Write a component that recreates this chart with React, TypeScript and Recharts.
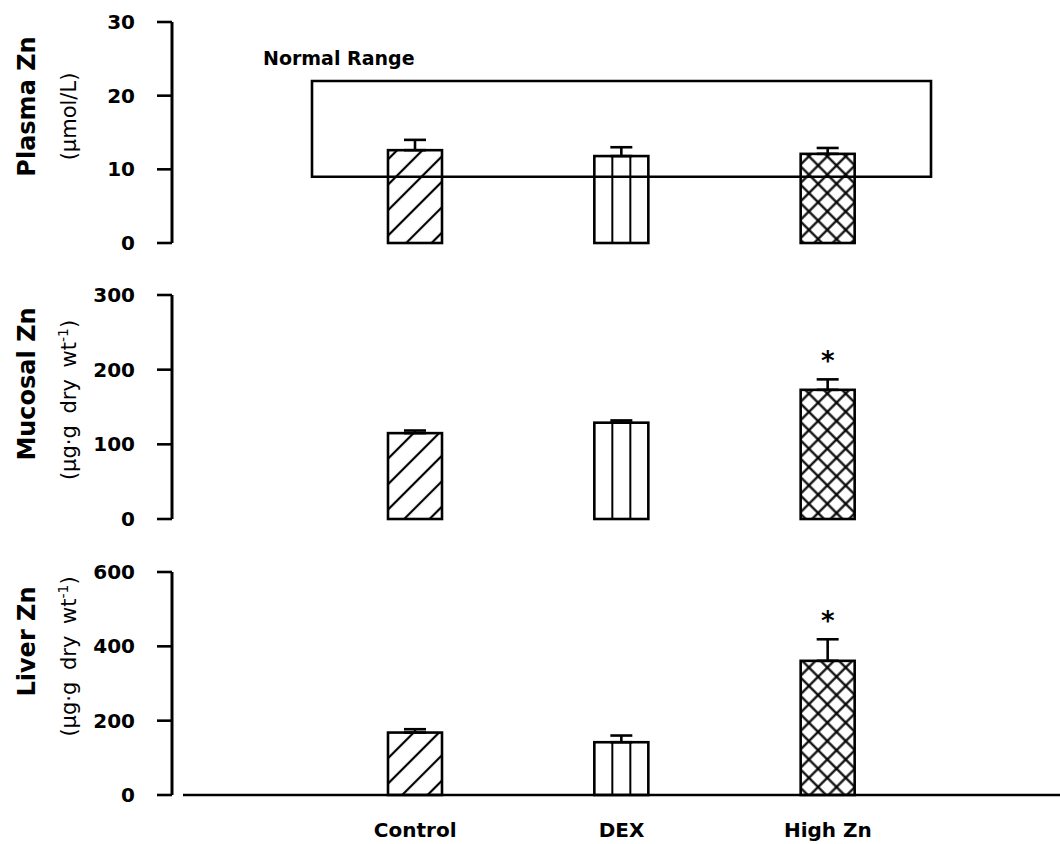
import React from 'react';
import {
  BarChart,
  Bar,
  XAxis,
  YAxis,
  ErrorBar,
  ReferenceArea,
  ReferenceDot,
} from 'recharts';

const FONT = "'DejaVu Sans', 'Liberation Sans', sans-serif";
const INK = '#000';

const groups = ['Control', 'DEX', 'High Zn'];

// plasma Zn, umol/L (mean, +SEM)
const plasmaZn = [12.6, 11.8, 12.1];
const plasmaSem = [1.4, 1.2, 0.8];
const normalRange = [9, 22];
const plasmaTicks = [0, 10, 20, 30];

// mucosal Zn, ug/g dry wt
const mucosalZn = [115, 129, 173];
const mucosalSem = [3.5, 3, 14];
const mucosalTicks = [0, 100, 200, 300];

// liver Zn, ug/g dry wt
const liverZn = [168, 142, 361];
const liverSem = [9, 18, 58];
const liverTicks = [0, 200, 400, 600];

// groups marked with * (p < 0.05 vs control)
const significant = ['High Zn'];

const HATCH: Record<string, string> = {
  Control: 'diag',
  DEX: 'vertical',
  'High Zn': 'cross',
};

const rows = (means: number[], sems: number[]) =>
  groups.map((group, i) => ({ group, mean: means[i], sem: sems[i], err: [0, sems[i]] }));

function HatchedBar(props: any) {
  const { x, y, width, height, payload } = props;
  if (!(height > 0)) return null;
  const hatch = HATCH[payload.group];
  return (
    <g>
      {hatch === 'vertical' ? (
        [1, 2].map((k) => (
          <line
            key={k}
            x1={x + (width * k) / 3}
            x2={x + (width * k) / 3}
            y1={y}
            y2={y + height}
            stroke={INK}
            strokeWidth={2}
          />
        ))
      ) : (
        <rect x={x} y={y} width={width} height={height} fill={`url(#hatch-${hatch})`} />
      )}
      <rect x={x} y={y} width={width} height={height} fill="none" stroke={INK} strokeWidth={2.6} />
    </g>
  );
}

function AxisTitle(props: any) {
  const { viewBox, title, units, sup, titleShift, unitsShift } = props;
  const vb = viewBox || { y: 0, height: 0 };
  const cy = vb.y + vb.height / 2;
  return (
    <g fontFamily={FONT} fill={INK}>
      <text
        transform={`translate(35, ${cy + titleShift}) rotate(-90)`}
        textAnchor="middle"
        fontSize={24}
        fontWeight="bold"
      >
        {title}
      </text>
      <text
        transform={`translate(76, ${cy + unitsShift}) rotate(-90)`}
        textAnchor="middle"
        fontSize={21}
        wordSpacing={5}
      >
        <tspan>{units}</tspan>
        {sup && (
          <>
            <tspan dy={-8} fontSize={14}>{sup}</tspan>
            <tspan dy={8}>)</tspan>
          </>
        )}
      </text>
    </g>
  );
}

function RangeLabel(props: any) {
  const { viewBox } = props;
  if (!viewBox) return null;
  return (
    <text
      x={viewBox.x - 49}
      y={viewBox.y - 16}
      fontFamily={FONT}
      fontSize={19}
      fontWeight="bold"
      fill={INK}
    >
      Normal Range
    </text>
  );
}

type PanelProps = {
  height: number;
  top: number;
  bottom: number;
  means: number[];
  sems: number[];
  ticks: number[];
  title: string;
  units: string;
  sup?: string;
  titleShift: number;
  unitsShift: number;
  showCategories?: boolean;
  stars?: boolean;
  children?: React.ReactNode;
};

function Panel(p: PanelProps) {
  const data = rows(p.means, p.sems);
  const tickStyle = { fill: INK, fontSize: 20, fontWeight: 'bold', fontFamily: FONT };
  return (
    <BarChart
      width={1060}
      height={p.height}
      data={data}
      margin={{ top: p.top, right: 0, bottom: p.bottom, left: 0 }}
    >
      <XAxis
        dataKey="group"
        type="category"
        hide={!p.showCategories}
        padding={{ left: 140, right: 129 }}
        height={49}
        tickSize={0}
        tickLine={false}
        tickMargin={28}
        axisLine={{ stroke: INK, strokeWidth: 2.6, strokeDasharray: '0 11 2000' }}
        tick={tickStyle}
      />
      <YAxis
        type="number"
        domain={[0, p.ticks[p.ticks.length - 1]]}
        ticks={p.ticks}
        interval={0}
        width={172}
        tickSize={15}
        tickMargin={22}
        axisLine={{ stroke: INK, strokeWidth: 3 }}
        tickLine={{ stroke: INK, strokeWidth: 2.6 }}
        tick={tickStyle}
        label={
          <AxisTitle
            title={p.title}
            units={p.units}
            sup={p.sup}
            titleShift={p.titleShift}
            unitsShift={p.unitsShift}
          />
        }
      />
      {p.children}
      <Bar
        dataKey="mean"
        barSize={54}
        isAnimationActive={false}
        shape={(props: any) => <HatchedBar {...props} />}
      >
        <ErrorBar
          dataKey="err"
          direction="y"
          width={11}
          stroke={INK}
          strokeWidth={2.6}
          isAnimationActive={false}
        />
      </Bar>
      {p.stars &&
        data
          .filter((d) => significant.includes(d.group))
          .map((d) => (
            <ReferenceDot
              key={d.group}
              x={d.group}
              y={d.mean + d.sem}
              r={0}
              fill="none"
              stroke="none"
              label={{
                value: '*',
                position: 'top',
                offset: 9,
                fill: INK,
                fontSize: 26,
                fontWeight: 'bold',
                fontFamily: FONT,
              }}
            />
          ))}
    </BarChart>
  );
}

export default function App() {
  return (
    <div
      style={{
        position: 'absolute',
        left: 0,
        top: 0,
        width: 1060,
        height: 844,
        background: '#fff',
        overflow: 'hidden',
      }}
    >
      <svg width={0} height={0} style={{ position: 'absolute' }}>
        <defs>
          <pattern
            id="hatch-diag"
            patternUnits="userSpaceOnUse"
            width={18}
            height={18}
            patternTransform="rotate(45)"
          >
            <line x1={9} y1={0} x2={9} y2={18} stroke={INK} strokeWidth={2.2} />
          </pattern>
          <pattern
            id="hatch-cross"
            patternUnits="userSpaceOnUse"
            width={13}
            height={13}
            patternTransform="rotate(45)"
          >
            <line x1={6.5} y1={0} x2={6.5} y2={13} stroke={INK} strokeWidth={2.2} />
            <line x1={0} y1={6.5} x2={13} y2={6.5} stroke={INK} strokeWidth={2.2} />
          </pattern>
        </defs>
      </svg>

      <Panel
        height={274}
        top={22}
        bottom={31}
        means={plasmaZn}
        sems={plasmaSem}
        ticks={plasmaTicks}
        title="Plasma Zn"
        units="(μmol/L)"
        titleShift={-26}
        unitsShift={-16}
      >
        <ReferenceArea
          x1="Control"
          x2="High Zn"
          y1={normalRange[0]}
          y2={normalRange[1]}
          fill="none"
          fillOpacity={0}
          stroke={INK}
          strokeWidth={2.6}
          ifOverflow="visible"
          label={<RangeLabel />}
        />
      </Panel>

      <Panel
        height={274}
        top={21}
        bottom={29}
        means={mucosalZn}
        sems={mucosalSem}
        ticks={mucosalTicks}
        title="Mucosal Zn"
        units="(μg·g dry wt"
        sup="-1"
        titleShift={-23}
        unitsShift={-7}
        stars
      />

      <Panel
        height={296}
        top={24}
        bottom={0}
        means={liverZn}
        sems={liverSem}
        ticks={liverTicks}
        title="Liver Zn"
        units="(μg·g dry wt"
        sup="-1"
        titleShift={-42}
        unitsShift={-27}
        showCategories
        stars
      />
    </div>
  );
}
